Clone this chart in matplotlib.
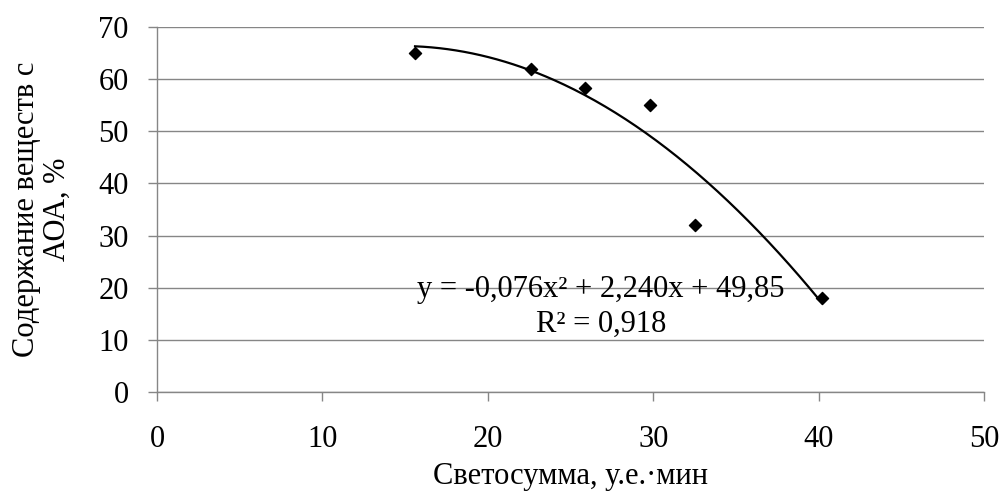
import numpy as np
import matplotlib.pyplot as plt

plt.rcParams['font.family'] = ['Liberation Serif', 'DejaVu Serif']

# measured points
svetosumma = [15.6, 22.6, 25.9, 29.8, 32.5, 40.2]
aoa = [65.0, 62.0, 58.3, 55.0, 32.0, 18.0]

# trendline from the chart label: y = a*x^2 + b*x + c
trend_coef = [-0.076, 2.240, 49.85]
r2 = 0.918

x_ticks = [0, 10, 20, 30, 40, 50]
y_ticks = [0, 10, 20, 30, 40, 50, 60, 70]

grey = '#868686'
fs = 22

fig = plt.figure(figsize=(10.01, 4.95), dpi=100)
ax = fig.add_axes([157 / 1001, 1 - 392 / 495, 827 / 1001, 365 / 495])

xx = np.linspace(min(svetosumma), max(svetosumma), 200)
ax.plot(xx, np.polyval(trend_coef, xx), color='black', lw=1.6, zorder=3)
ax.scatter(svetosumma, aoa, marker='D', s=38, color='black', zorder=4)

ax.set_xlim(0, 50)
ax.set_ylim(0, 70)
ax.set_xticks(x_ticks)
ax.set_yticks(y_ticks)
ax.yaxis.grid(True, color=grey, lw=1)
ax.set_axisbelow(True)
for side in ['top', 'right']:
    ax.spines[side].set_visible(False)
for side in ['left', 'bottom']:
    ax.spines[side].set_color(grey)
    ax.spines[side].set_linewidth(1)
ax.tick_params(axis='both', colors=grey, labelcolor='black', labelsize=fs,
               length=6.5, width=1)
ax.tick_params(axis='x', pad=17)
ax.tick_params(axis='y', pad=14)

ax.set_xlabel('Светосумма, у.е.·мин', fontsize=fs, labelpad=6)
ax.set_ylabel('Содержание веществ с\nАОА, %', fontsize=fs, labelpad=19,
              linespacing=1.08)

eq = 'y = -0,076x² + 2,240x + 49,85\nR² = {}'.format(str(r2).replace('.', ','))
ax.text(26.85, 16.3, eq, fontsize=fs, ha='center', va='center',
        linespacing=1.25, zorder=5)

fig.savefig('out.png', dpi=100)
